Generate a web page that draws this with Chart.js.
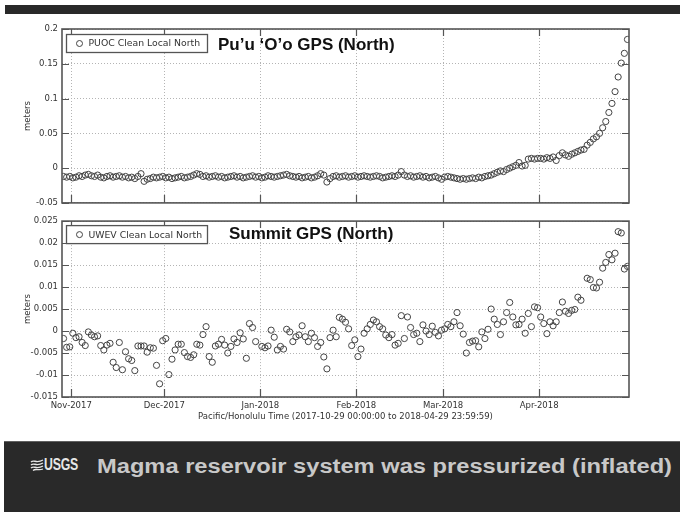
<!DOCTYPE html>
<html>
<head>
<meta charset="utf-8">
<script src="https://cdn.jsdelivr.net/npm/chart.js@4.4.1/dist/chart.umd.min.js"></script>
<style>
  html, body { margin: 0; padding: 0; background: #fff; width: 680px; height: 512px; overflow: hidden; }
  #topbar { position: absolute; left: 5px; top: 5px; width: 675px; height: 9px; background: #292929; }
  #c1 { position: absolute; left: 0; top: 0; }
  #c2 { position: absolute; left: 0; top: 212px; }
  #footer { position: absolute; left: 4px; top: 441px; width: 676px; height: 71px; background: #292929;
            border-top: 1px solid #606060; box-sizing: border-box; }
  #logo { position: absolute; left: 26px; top: 16px; height: 14px; display: flex; align-items: center; }
  #logo span { color: #e6e6e6; font: bold 16px/14px "Liberation Sans Narrow", "Liberation Sans", Arial, sans-serif;
               display: inline-block; transform-origin: 0 50%; letter-spacing: -0.3px; }
  #caption { position: absolute; left: 93px; top: 14px; color: #c8c8c8; white-space: nowrap;
             font: bold 20px/20px "Liberation Sans Narrow", "Liberation Sans", Arial, sans-serif; transform-origin: 0 0; }
</style>
</head>
<body>
<div id="topbar"></div>
<canvas id="c1" width="680" height="212"></canvas>
<canvas id="c2" width="680" height="228"></canvas>
<div id="footer">
  <div id="logo">
    <svg width="14" height="12" viewBox="0 0 14 12">
      <g fill="none" stroke="#e6e6e6" stroke-width="1.3">
        <path d="M1 3 C4 0, 6 5, 13 1"/>
        <path d="M1 6 C4 3, 6 8, 13 4"/>
        <path d="M1 9 C4 6, 6 11, 13 7"/>
        <path d="M3 11.5 C6 9, 8 12, 13 10"/>
      </g>
    </svg>
    <span id="logotext">USGS</span>
  </div>
  <div id="caption">Magma reservoir system was pressurized (inflated)</div>
</div>
<script>
// Daily GPS north component, one value per day starting 2017-10-29 (metres)
const puocNorth = [
  -0.012, -0.013, -0.012, -0.014, -0.013, -0.011, -0.012, -0.010, -0.009, -0.011,
  -0.012, -0.010, -0.013, -0.014, -0.012, -0.011, -0.013, -0.012, -0.011, -0.013,
  -0.012, -0.014, -0.013, -0.015, -0.012, -0.008, -0.019, -0.016, -0.015, -0.013,
  -0.014, -0.013, -0.012, -0.014, -0.013, -0.015, -0.014, -0.013, -0.012, -0.014,
  -0.013, -0.012, -0.010, -0.008, -0.009, -0.012, -0.011, -0.013, -0.012, -0.011,
  -0.013, -0.012, -0.014, -0.013, -0.012, -0.011, -0.013, -0.012, -0.014, -0.013,
  -0.012, -0.011, -0.013, -0.012, -0.014, -0.013, -0.011, -0.012, -0.013, -0.012,
  -0.011, -0.010, -0.009, -0.011, -0.012, -0.013, -0.012, -0.014, -0.013, -0.012,
  -0.014, -0.013, -0.011, -0.008, -0.010, -0.020, -0.015, -0.012, -0.011, -0.013,
  -0.012, -0.011, -0.013, -0.012, -0.011, -0.013, -0.012, -0.011, -0.012, -0.013,
  -0.012, -0.011, -0.012, -0.014, -0.013, -0.012, -0.011, -0.012, -0.010, -0.005,
  -0.010, -0.012, -0.011, -0.013, -0.012, -0.011, -0.013, -0.012, -0.014, -0.013,
  -0.012, -0.014, -0.016, -0.013, -0.012, -0.013, -0.014, -0.015, -0.016, -0.015,
  -0.016, -0.015, -0.014, -0.015, -0.013, -0.014, -0.012,
  -0.011, -0.010, -0.008, -0.006, -0.004, -0.005, -0.002, 0.000, 0.002, 0.004,
  0.008, 0.003, 0.004, 0.013, 0.014, 0.013, 0.014, 0.014, 0.013, 0.015,
  0.014, 0.016, 0.011, 0.018, 0.022, 0.019, 0.017, 0.020, 0.022, 0.024,
  0.026, 0.027, 0.033, 0.037, 0.042, 0.045, 0.050, 0.058, 0.067, 0.080,
  0.093, 0.110, 0.131, 0.151, 0.165, 0.185
];

const uwevNorth = [
  -0.0017, -0.0037, -0.0036, -0.0005, -0.0015, -0.0013, -0.0026, -0.0033, -0.0002, -0.0009,
  -0.0013, -0.0011, -0.0033, -0.0043, -0.0032, -0.0028, -0.0071, -0.0083, -0.0026, -0.0088,
  -0.0047, -0.0063, -0.0067, -0.0090, -0.0034, -0.0034, -0.0034, -0.0048, -0.0038, -0.0039,
  -0.0078, -0.0120, -0.0022, -0.0017, -0.0099, -0.0064, -0.0043, -0.0030, -0.0030, -0.0049,
  -0.0058, -0.0060, -0.0054, -0.0030, -0.0032, -0.0008, 0.0010, -0.0058, -0.0071, -0.0034,
  -0.0030, -0.0019, -0.0032, -0.0050, -0.0035, -0.0018, -0.0026, -0.0004, -0.0018, -0.0062,
  0.0017, 0.0008, -0.0024, null, -0.0035, -0.0038, -0.0034, 0.0002, -0.0014, -0.0043,
  -0.0035, -0.0041, 0.0004, -0.0002, -0.0024, -0.0013, -0.0009, 0.0012, -0.0013, -0.0024,
  -0.0005, -0.0015, -0.0035, -0.0026, -0.0059, -0.0086, -0.0015, 0.0002, -0.0013, 0.0031,
  0.0027, 0.0020, 0.0005, -0.0033, -0.0020, -0.0058, -0.0041, -0.0005, 0.0005, 0.0015,
  0.0025, 0.0021, 0.0010, 0.0005, -0.0009, -0.0015, -0.0008, -0.0032, -0.0028, 0.0035,
  -0.0017, 0.0032, 0.0008, -0.0008, -0.0005, -0.0024, 0.0014, 0.0000, -0.0008, 0.0011,
  -0.0003, -0.0011, 0.0002, 0.0005, 0.0015, 0.0010, 0.0021, 0.0042, 0.0012, -0.0007,
  -0.0050, -0.0026, -0.0023, -0.0022, -0.0036, -0.0002, -0.0017, 0.0004, 0.0050, 0.0027,
  0.0015, -0.0008, 0.0021, 0.0042, 0.0065, 0.0032, 0.0014, 0.0015, 0.0027, -0.0005,
  0.0040, 0.0010, 0.0055, 0.0053, 0.0032, 0.0017, -0.0006, 0.0021, 0.0012, 0.0021,
  0.0042, 0.0066, 0.0045, 0.0040, 0.0047, 0.0049, 0.0077, 0.0070, null, 0.0120,
  0.0117, 0.0099, 0.0098, 0.0111, 0.0143, 0.0156, 0.0174, 0.0162, 0.0177, 0.0226,
  0.0223, 0.0141, 0.0147
];

// Time axis: days since 2017-10-29 00:00, month starts as major ticks
const spanDays = 183;
const monthTickDays = [3, 33, 64, 95, 123, 154];
const monthLabels = ['Nov-2017', 'Dec-2017', 'Jan-2018', 'Feb-2018', 'Mar-2018', 'Apr-2018'];

const puocTicks = [-0.05, 0, 0.05, 0.1, 0.15, 0.2];
const puocTickLabels = ['-0.05', '0', '0.05', '0.1', '0.15', '0.2'];
const uwevTicks = [-0.015, -0.01, -0.005, 0, 0.005, 0.01, 0.015, 0.02, 0.025];
const uwevTickLabels = ['-0.015', '-0.01', '-0.005', '0', '0.005', '0.01', '0.015', '0.02', '0.025'];

const timeAxisTitle = 'Pacific/Honolulu Time (2017-10-29 00:00:00 to 2018-04-29 23:59:59)';

Chart.defaults.font.family = '"DejaVu Sans", sans-serif';
Chart.defaults.font.size = 8.5;
Chart.defaults.color = '#333';

// Daily samples are stamped at local noon
function toPoints(values) {
  const pts = [];
  values.forEach((v, i) => { if (v !== null) pts.push({ x: i + 0.5, y: v }); });
  return pts;
}

// Frame, inward tick marks, boxed legend and panel heading
const panelDecor = {
  id: 'panelDecor',
  afterDraw(chart, args, opts) {
    const { ctx, chartArea: a, scales } = chart;
    const xs = scales.x, ys = scales.y;
    ctx.save();
    ctx.strokeStyle = '#555';
    ctx.lineWidth = 1.2;
    ctx.beginPath();
    ys.ticks.forEach(t => {
      const y = Math.round(ys.getPixelForValue(t.value)) + 0.5;
      ctx.moveTo(a.left, y); ctx.lineTo(a.left + 7, y);
      ctx.moveTo(a.right, y); ctx.lineTo(a.right - 7, y);
    });
    xs.ticks.forEach(t => {
      const x = Math.round(xs.getPixelForValue(t.value)) + 0.5;
      ctx.moveTo(x, a.bottom); ctx.lineTo(x, a.bottom - 8);
      ctx.moveTo(x, a.top); ctx.lineTo(x, a.top + 7);
    });
    ctx.stroke();
    ctx.lineWidth = 1.6;
    ctx.strokeRect(a.left, a.top, a.right - a.left, a.bottom - a.top);

    const ds = chart.data.datasets[0];
    const bx = a.left + 4.5, by = a.top + opts.legendTop + 0.5, bw = 141, bh = 18;
    ctx.fillStyle = '#fff';
    ctx.fillRect(bx, by, bw, bh);
    ctx.strokeStyle = '#555';
    ctx.lineWidth = 1.3;
    ctx.strokeRect(bx, by, bw, bh);
    ctx.beginPath();
    ctx.arc(bx + 13, by + bh / 2, 3, 0, Math.PI * 2);
    ctx.strokeStyle = ds.pointBorderColor;
    ctx.lineWidth = 1;
    ctx.stroke();
    ctx.fillStyle = '#333';
    ctx.font = '9.3px "DejaVu Sans", sans-serif';
    ctx.textBaseline = 'middle';
    ctx.textAlign = 'left';
    ctx.fillText(ds.label, bx + 22, by + bh / 2 + 0.5);

    ctx.fillStyle = '#111';
    ctx.font = 'bold 17px "Liberation Sans", Arial, sans-serif';
    ctx.fillText(opts.title, opts.titleLeft, a.top + opts.titleMid);
    ctx.restore();
  }
};

function makePanel(canvas, cfg) {
  return new Chart(canvas, {
    type: 'scatter',
    data: {
      datasets: [{
        label: cfg.label,
        data: toPoints(cfg.values),
        showLine: false,
        pointStyle: 'circle',
        pointRadius: 3.1,
        pointBorderWidth: 1,
        pointBorderColor: '#444',
        pointBackgroundColor: 'rgba(0,0,0,0)'
      }]
    },
    options: {
      responsive: false,
      animation: false,
      events: [],
      layout: { padding: cfg.padding },
      plugins: {
        legend: { display: false },
        tooltip: { enabled: false },
        panelDecor: { title: cfg.title, titleLeft: cfg.titleLeft, titleMid: cfg.titleMid, legendTop: cfg.legendTop }
      },
      scales: {
        x: {
          type: 'linear',
          min: 0,
          max: spanDays,
          afterBuildTicks: s => { s.ticks = monthTickDays.map(v => ({ value: v })); },
          afterFit: s => { s.height = cfg.xAxisHeight; },
          ticks: {
            display: cfg.showTime,
            padding: 4,
            maxRotation: 0,
            autoSkip: false,
            color: '#333',
            callback: (v, i) => monthLabels[i]
          },
          grid: { color: '#b4b4b4', lineWidth: 1, drawTicks: false },
          border: { display: false, dash: [1, 2] },
          title: {
            display: cfg.showTime,
            text: timeAxisTitle,
            color: '#333',
            padding: { top: 0, bottom: 5 }
          }
        },
        y: {
          min: cfg.yTicks[0],
          max: cfg.yTicks[cfg.yTicks.length - 1],
          afterBuildTicks: s => { s.ticks = cfg.yTicks.map(v => ({ value: v })); },
          afterFit: s => { s.width = 62; },
          ticks: {
            padding: 4,
            color: '#333',
            autoSkip: false,
            callback: (v, i) => cfg.yLabels[i]
          },
          grid: { color: '#b4b4b4', lineWidth: 1, drawTicks: false },
          border: { display: false, dash: [1, 2] },
          title: {
            display: true,
            text: 'meters',
            color: '#333',
            padding: { top: 23, bottom: 0 }
          }
        }
      }
    },
    plugins: [panelDecor]
  });
}

makePanel(document.getElementById('c1'), {
  label: 'PUOC Clean Local North',
  values: puocNorth,
  title: 'Pu\u2019u \u2018O\u2019o GPS (North)',
  titleLeft: 218,
  titleMid: 16.5,
  legendTop: 5,
  yTicks: puocTicks,
  yLabels: puocTickLabels,
  showTime: false,
  xAxisHeight: 0,
  padding: { top: 29, right: 51, bottom: 5, left: 0 }
});

makePanel(document.getElementById('c2'), {
  label: 'UWEV Clean Local North',
  values: uwevNorth,
  title: 'Summit GPS (North)',
  titleLeft: 229,
  titleMid: 13,
  legendTop: 4,
  yTicks: uwevTicks,
  yLabels: uwevTickLabels,
  showTime: true,
  xAxisHeight: 30,
  padding: { top: 8, right: 51, bottom: 13, left: 0 }
});

// Fit the footer caption and logo lettering to their slots
const caption = document.getElementById('caption');
caption.style.transform = 'scaleX(' + (575 / caption.getBoundingClientRect().width) + ')';
const logoText = document.getElementById('logotext');
logoText.style.transform = 'scaleX(' + (34 / logoText.getBoundingClientRect().width) + ')';
</script>
</body>
</html>
